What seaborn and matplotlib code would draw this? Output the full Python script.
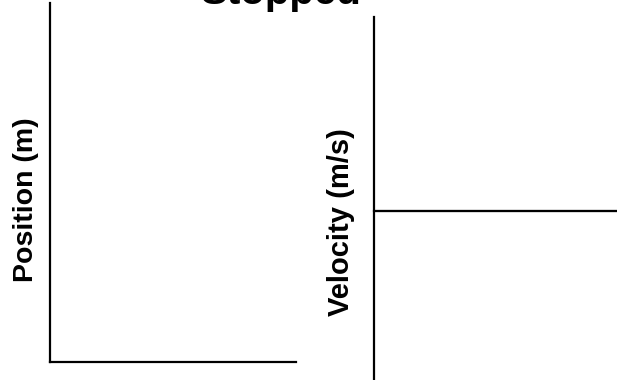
import numpy as np
import pandas as pd
import seaborn as sns
import matplotlib.pyplot as plt


# Motion graphs for an object that is stopped
time_s = [0, 10]
velocity_ms = [0, 0]
title = "Stopped"
pos_label = "Position (m)"
vel_label = "Velocity (m/s)"

sns.set_style("white")
plt.rcParams['font.family'] = ['Liberation Sans', 'DejaVu Sans']
plt.rcParams['text.color'] = 'black'
plt.rcParams['axes.labelcolor'] = 'black'

W, H = 617, 380
fig = plt.figure(figsize=(W / 100, H / 100), dpi=100)

# Position axes (left)
ax1 = fig.add_axes([50 / W, 1 - 362 / H, 246 / W, 359 / H])
ax1.set_xlim(0, 10)
ax1.set_ylim(0, 10)

# Velocity axes (right), x axis through zero
ax2 = fig.add_axes([374 / W, 1 - 405 / H, 0.45, 388 / H])
df_v = pd.DataFrame({"time": time_s, "velocity": velocity_ms})
sns.lineplot(data=df_v, x="time", y="velocity", ax=ax2, color="black", linewidth=1.5)
ax2.set_xlim(0, 10)
ax2.set_ylim(-1, 1)
ax2.spines['bottom'].set_position('zero')

for ax in (ax1, ax2):
    sns.despine(ax=ax)
    for s in ('left', 'bottom'):
        ax.spines[s].set_color('black')
        ax.spines[s].set_linewidth(1.6)
    ax.set_xticks([])
    ax.set_yticks([])
    ax.set_xlabel("")

ax1.set_ylabel(pos_label, fontsize=20.5, fontweight='bold', va='center', color='black')
ax1.yaxis.set_label_coords(26 / W, 1 - 200 / H, transform=fig.transFigure)
ax2.set_ylabel(vel_label, fontsize=21, fontweight='bold', va='center', color='black')
ax2.yaxis.set_label_coords(341 / W, 1 - 222 / H, transform=fig.transFigure)

fig.text(281 / W, 1 - 4 / H, title, fontsize=29, fontweight='bold',
         ha='center', va='baseline', color='black')

fig.savefig("out.png", dpi=100)
